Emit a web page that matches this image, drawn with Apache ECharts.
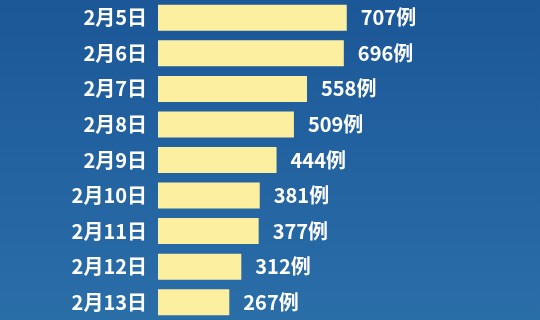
<!DOCTYPE html>
<html>
<head>
<meta charset="utf-8">
<script src="https://cdn.jsdelivr.net/npm/echarts@6/dist/echarts.min.js"></script>
<style>
  html, body { margin: 0; padding: 0; }
  #chart { width: 540px; height: 320px; }
</style>
</head>
<body>
<div id="chart"></div>
<script>
// 日期（从上到下）
const dates = ['2月5日', '2月6日', '2月7日', '2月8日', '2月9日', '2月10日', '2月11日', '2月12日', '2月13日'];
// 每日新增病例
const cases = [707, 696, 558, 509, 444, 381, 377, 312, 267];

const chart = echarts.init(document.getElementById('chart'));

chart.setOption({
  backgroundColor: {
    type: 'linear', x: 0, y: 0, x2: 0, y2: 1,
    colorStops: [
      { offset: 0, color: '#1c5798' },
      { offset: 1, color: '#2a6ea8' },
    ],
  },
  animation: false,
  grid: { left: 158, right: 115, top: -1, bottom: -5, containLabel: false },
  xAxis: {
    type: 'value',
    min: 0,
    max: 1000,
    show: false,
  },
  yAxis: {
    type: 'category',
    inverse: true, // 第一天在最上面
    data: dates,
    axisLine: { show: false },
    axisTick: { show: false },
    axisLabel: {
      color: '#ffffff',
      fontSize: 20,
      fontWeight: 'bold',
      margin: 11,
      fontFamily: '"Noto Sans CJK SC", "Noto Sans", sans-serif',
    },
  },
  series: [
    {
      type: 'bar',
      data: cases,
      barWidth: 26,
      itemStyle: { color: '#fcef9f' },
      label: {
        show: true,
        position: 'right',
        distance: 14,
        color: '#ffffff',
        fontSize: 20,
        fontWeight: 'bold',
        fontFamily: '"Noto Sans CJK SC", "Noto Sans", sans-serif',
        formatter: (p) => p.value + '例',
      },
    },
  ],
});
</script>
</body>
</html>
